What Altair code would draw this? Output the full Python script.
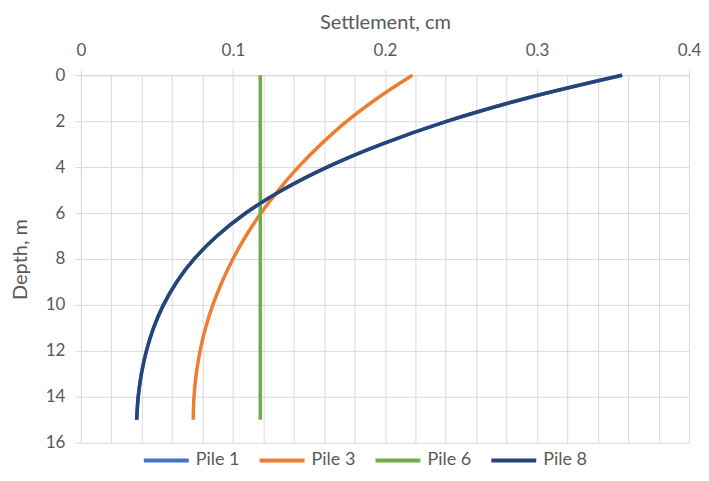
import altair as alt
import pandas as pd

depth = [0, 1, 2, 3, 4, 5, 6, 7, 8, 9, 10, 11, 12, 13, 14, 15]
pile1 = [0.356, 0.293, 0.241, 0.198, 0.162, 0.1325, 0.1085, 0.0895, 0.0745, 0.063, 0.0543, 0.0478, 0.0431, 0.0398, 0.0377, 0.0367]
pile3 = [0.218, 0.195, 0.175, 0.158, 0.143, 0.130, 0.1185, 0.1085, 0.100, 0.0928, 0.0868, 0.082, 0.0784, 0.0759, 0.0744, 0.0739]
pile6 = [0.118, 0.118, 0.118, 0.118, 0.118, 0.118, 0.118, 0.118, 0.118, 0.118, 0.118, 0.118, 0.118, 0.118, 0.118, 0.118]
pile8 = [0.356, 0.293, 0.241, 0.198, 0.162, 0.1325, 0.1085, 0.0895, 0.0745, 0.063, 0.0543, 0.0478, 0.0431, 0.0398, 0.0377, 0.0367]

names = ["Pile 1", "Pile 3", "Pile 6", "Pile 8"]
colors = ["#4472C4", "#ED7D31", "#70AD47", "#264478"]
series = [pile1, pile3, pile6, pile8]

rows = []
for name, vals in zip(names, series):
    for d, v in zip(depth, vals):
        rows.append({"pile": name, "depth": d, "settlement": v})
df = pd.DataFrame(rows)

x_ticks = [round(i * 0.02, 2) for i in range(21)]
y_ticks = [0, 2, 4, 6, 8, 10, 12, 14, 16]
major = "abs(datum.value*10 - round(datum.value*10)) < 0.001"

TXT = "#595959"
GRID = "#d9d9d9"

chart = alt.Chart(df).mark_line(strokeWidth=3.5, interpolate="catmull-rom").encode(
    x=alt.X(
        "settlement:Q",
        scale=alt.Scale(domain=[0, 0.4], nice=False, zero=False),
        axis=alt.Axis(
            orient="top",
            values=x_ticks,
            title="Settlement, cm",
            format=".1~f",
            labelExpr=major + " ? datum.label : ''",
            labelOverlap=False,
            labelFlush=False,
            tickSize=6,
            tickOpacity={"condition": {"test": major, "value": 1}, "value": 0},
            labelPadding=10,
            titlePadding=9,
        ),
    ),
    y=alt.Y(
        "depth:Q",
        scale=alt.Scale(domain=[0, 16], reverse=True, nice=False),
        axis=alt.Axis(
            values=y_ticks,
            title="Depth, m",
            labelFlush=False,
            tickSize=6,
            labelPadding=10,
            titlePadding=15,
        ),
    ),
    color=alt.Color(
        "pile:N",
        scale=alt.Scale(domain=names, range=colors),
        legend=alt.Legend(
            orient="none",
            legendX=61,
            legendY=361,
            direction="horizontal",
            title=None,
            symbolType="stroke",
            symbolSize=2025,
            symbolStrokeWidth=4,
            labelFontSize=18,
            labelOffset=5,
            columnPadding=12,
            labelColor=TXT,
            labelFont="Lato",
        ),
    ),
    order=alt.Order("depth:Q"),
).properties(
    width=609,
    height=368,
    autosize=alt.AutoSizeParams(type="none"),
    padding={"left": 73, "top": 67, "right": 12, "bottom": 25},
).configure_view(
    stroke=None
).configure_axis(
    domainColor=GRID,
    gridColor=GRID,
    tickColor=GRID,
    gridWidth=1,
    labelColor=TXT,
    titleColor=TXT,
    labelFont="Lato",
    titleFont="Lato",
    labelFontSize=17,
    titleFontSize=20,
    titleFontWeight="normal",
)

chart.save("out.html", embed_options={"renderer": "svg", "actions": False})
